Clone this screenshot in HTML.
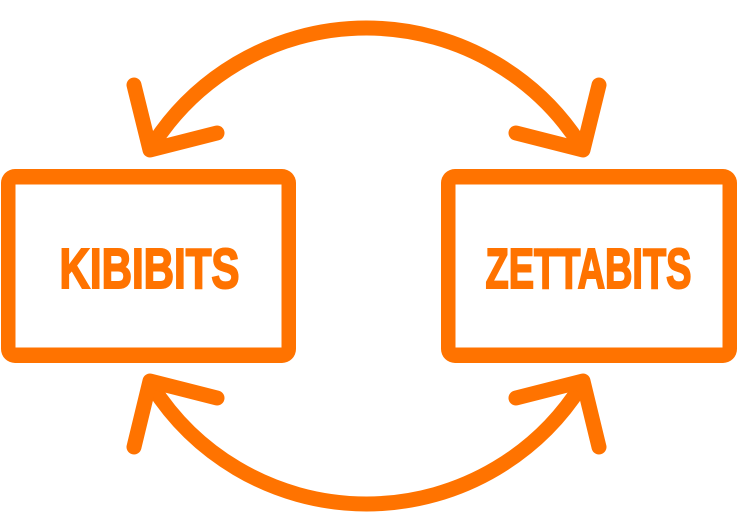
<!DOCTYPE html>
<html><head><meta charset="utf-8"><style>html,body{margin:0;padding:0;background:#fff}svg{display:block}</style></head>
<body><svg width="737" height="532" viewBox="0 0 737 532" xmlns="http://www.w3.org/2000/svg">
<rect width="737" height="532" fill="#fff"/>
<rect x="1" y="169" width="295" height="194" rx="14" fill="#ff7300"/>
<rect x="15.500" y="184.500" width="266" height="163" fill="#fff"/>
<rect x="441" y="169" width="296" height="194" rx="14" fill="#ff7300"/>
<rect x="455.500" y="184.500" width="267" height="163" fill="#fff"/>
<g fill="none" stroke="#ff7300" stroke-width="15" stroke-linecap="round" stroke-linejoin="round">
<path d="M152 146 A254 254 0 0 1 581 146"/>
<path d="M134 85 L150 150 L217 133"/>
<path d="M599 85 L583 150 L516 133"/>
<path d="M152 386 A254 254 0 0 0 581 386"/>
<path d="M134 447 L150 381 L217 398"/>
<path d="M599 447 L583 381 L516 398"/>
</g>
<g font-family="'Liberation Sans',sans-serif" font-weight="700" font-size="57" fill="#ff7300" stroke="#ff7300" stroke-width="2" stroke-linejoin="miter" stroke-miterlimit="3">
<text x="59.500" y="288" textLength="180" lengthAdjust="spacingAndGlyphs">KIBIBITS</text>
<text x="485.500" y="288" textLength="206" lengthAdjust="spacingAndGlyphs">ZETTABITS</text>
</g>
</svg></body></html>
